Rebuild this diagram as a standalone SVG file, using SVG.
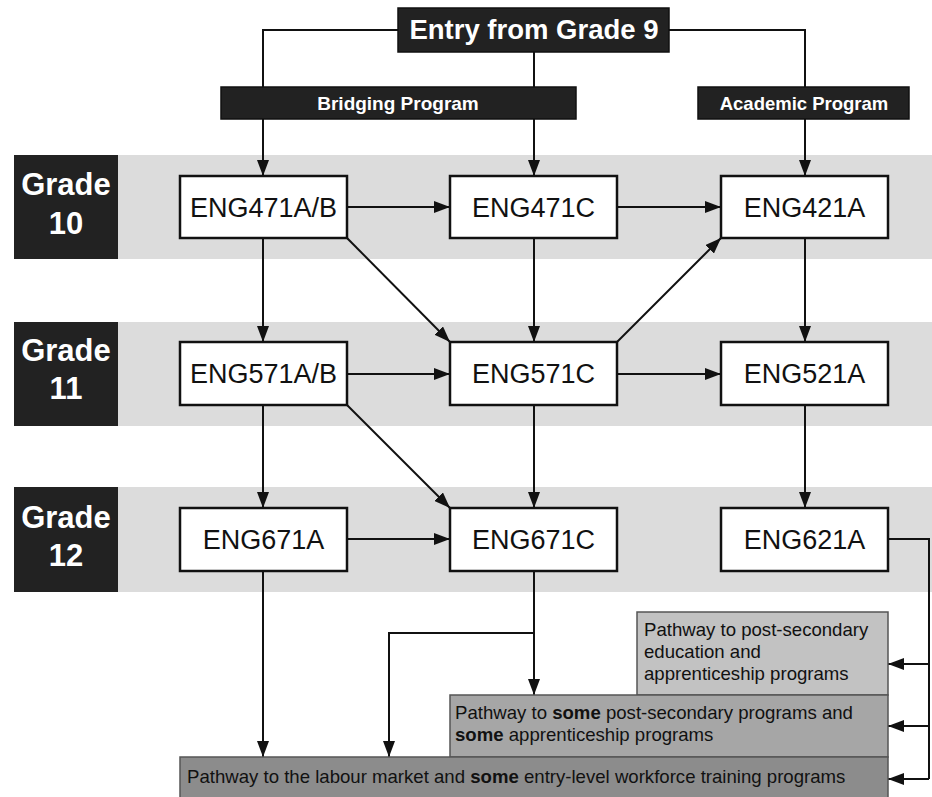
<svg xmlns="http://www.w3.org/2000/svg" width="932" height="797" viewBox="0 0 932 797">
<defs>
<marker id="ah" viewBox="0 0 16 12" refX="16" refY="6" markerWidth="16" markerHeight="12" markerUnits="userSpaceOnUse" orient="auto">
<path d="M0,0 L16,6 L0,12 Z" fill="#111"/>
</marker>
<style>
.band{fill:#dcdcdc}
.glab{fill:#222}
.gt{font-family:"Liberation Sans",Arial,sans-serif;font-weight:bold;font-size:31px;fill:#fff;text-anchor:middle}
.dark{fill:#222;stroke:#111;stroke-width:1.5}
.hd{font-family:"Liberation Sans",Arial,sans-serif;font-weight:bold;fill:#fff;text-anchor:middle}
.box{fill:#fff;stroke:#111;stroke-width:2.5}
.bt{font-family:"Liberation Sans",Arial,sans-serif;font-size:27px;fill:#111;text-anchor:middle}
.pw{stroke:#555;stroke-width:1.5}
.pt{font-family:"Liberation Sans",Arial,sans-serif;font-size:18.6px;fill:#111}
.pt .b{font-weight:bold}
.c{fill:none;stroke:#111;stroke-width:2}
.ca{fill:none;stroke:#111;stroke-width:2;marker-end:url(#ah)}
</style>
</defs>
<rect width="932" height="797" fill="#fff"/>

<g id="bands">
<rect class="band" x="118" y="155" width="814" height="104"/>
<rect class="band" x="118" y="322" width="814" height="104"/>
<rect class="band" x="118" y="487" width="814" height="105"/>
</g>

<g id="grade10"><rect class="glab" x="14" y="155" width="104" height="104"/><text class="gt" x="66" y="195">Grade</text><text class="gt" x="66" y="234">10</text></g>
<g id="grade11"><rect class="glab" x="14" y="322" width="104" height="104"/><text class="gt" x="66" y="361">Grade</text><text class="gt" x="66" y="399">11</text></g>
<g id="grade12"><rect class="glab" x="14" y="487" width="104" height="105"/><text class="gt" x="66" y="528">Grade</text><text class="gt" x="66" y="566">12</text></g>

<g id="connectors">
<polyline class="c" points="398,30 263,30 263,87"/>
<polyline class="c" points="669,30 805,30 805,87"/>
<line class="c" x1="534" y1="52" x2="534" y2="87"/>
<line class="ca" x1="263" y1="119" x2="263" y2="176"/>
<line class="ca" x1="534" y1="119" x2="534" y2="176"/>
<line class="ca" x1="805" y1="119" x2="805" y2="176"/>

<line class="ca" x1="347" y1="207" x2="450" y2="207"/>
<line class="ca" x1="617" y1="207" x2="721" y2="207"/>
<line class="ca" x1="263" y1="238" x2="263" y2="342"/>
<line class="ca" x1="347" y1="238" x2="450" y2="342"/>
<line class="ca" x1="534" y1="238" x2="534" y2="342"/>
<line class="ca" x1="617" y1="342" x2="721" y2="238"/>
<line class="ca" x1="805" y1="238" x2="805" y2="342"/>

<line class="ca" x1="347" y1="374" x2="450" y2="374"/>
<line class="ca" x1="617" y1="374" x2="721" y2="374"/>
<line class="ca" x1="263" y1="405" x2="263" y2="508"/>
<line class="ca" x1="347" y1="405" x2="450" y2="508"/>
<line class="ca" x1="534" y1="405" x2="534" y2="508"/>
<line class="ca" x1="805" y1="405" x2="805" y2="508"/>

<line class="ca" x1="347" y1="539" x2="450" y2="539"/>
<line class="ca" x1="263" y1="571" x2="263" y2="757"/>
<line class="ca" x1="534" y1="571" x2="534" y2="695"/>
<polyline class="ca" points="534,633 389,633 389,757"/>
<polyline class="c" points="888,539 929,539 929,779"/>
<line class="ca" x1="929" y1="664" x2="888" y2="664"/>
<line class="ca" x1="929" y1="726" x2="888" y2="726"/>
<line class="ca" x1="929" y1="779" x2="888" y2="779"/>
</g>

<g id="entry"><rect class="dark" x="398" y="8" width="271" height="44"/><text class="hd" x="534" y="39" font-size="27.5">Entry from Grade 9</text></g>
<g id="bridging"><rect class="dark" x="221" y="87" width="355" height="32"/><text class="hd" x="398" y="110" font-size="19">Bridging Program</text></g>
<g id="academic"><rect class="dark" x="698" y="87" width="211" height="32"/><text class="hd" x="804" y="110" font-size="18.5">Academic Program</text></g>

<g id="eng471ab"><rect class="box" x="180" y="176" width="167" height="62"/><text class="bt" x="263.5" y="217">ENG471A/B</text></g>
<g id="eng471c"><rect class="box" x="450" y="176" width="167" height="62"/><text class="bt" x="533.5" y="217">ENG471C</text></g>
<g id="eng421a"><rect class="box" x="721" y="176" width="167" height="62"/><text class="bt" x="804.5" y="217">ENG421A</text></g>
<g id="eng571ab"><rect class="box" x="180" y="342" width="167" height="63"/><text class="bt" x="263.5" y="383">ENG571A/B</text></g>
<g id="eng571c"><rect class="box" x="450" y="342" width="167" height="63"/><text class="bt" x="533.5" y="383">ENG571C</text></g>
<g id="eng521a"><rect class="box" x="721" y="342" width="167" height="63"/><text class="bt" x="804.5" y="383">ENG521A</text></g>
<g id="eng671a"><rect class="box" x="180" y="508" width="167" height="63"/><text class="bt" x="263.5" y="549">ENG671A</text></g>
<g id="eng671c"><rect class="box" x="450" y="508" width="167" height="63"/><text class="bt" x="533.5" y="549">ENG671C</text></g>
<g id="eng621a"><rect class="box" x="721" y="508" width="167" height="63"/><text class="bt" x="804.5" y="549">ENG621A</text></g>

<g id="pathway1"><rect class="pw" x="637" y="612" width="251" height="83" fill="#c2c2c2"/>
<text class="pt" x="644" y="636">Pathway to post-secondary</text>
<text class="pt" x="644" y="658">education and</text>
<text class="pt" x="644" y="680">apprenticeship programs</text></g>
<g id="pathway2"><rect class="pw" x="450" y="695" width="438" height="62" fill="#a6a6a6"/>
<text class="pt" x="455" y="719">Pathway to <tspan class="b">some</tspan> post-secondary programs and</text>
<text class="pt" x="455" y="741"><tspan class="b">some</tspan> apprenticeship programs</text></g>
<g id="pathway3"><rect class="pw" x="180" y="757" width="708" height="42" fill="#8c8c8c"/>
<text class="pt" x="187" y="783">Pathway to the labour market and <tspan class="b">some</tspan> entry-level workforce training programs</text></g>
</svg>
